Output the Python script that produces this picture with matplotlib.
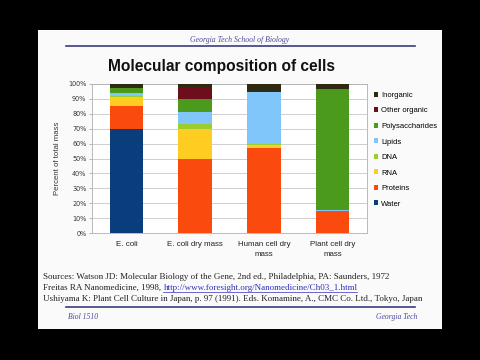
import matplotlib
matplotlib.use("Agg")
import matplotlib.pyplot as plt
from matplotlib.patches import Rectangle
from matplotlib.lines import Line2D
import numpy as np

# data (percent of total mass)
cats = ["E. coli", "E. coli dry mass", "Human cell dry\nmass", "Plant cell dry\nmass"]
comps = ["Water", "Proteins", "RNA", "DNA", "Lipids", "Polysaccharides", "Other organic", "Inorganic"]
water = [70, 0, 0, 0]
proteins = [15, 50, 57, 14.5]
rna = [6, 20, 2, 0]
dna = [1, 3, 0.5, 0]
lipids = [2, 8, 35, 1]
polysacch = [3, 9, 0, 81]
other_org = [1, 8, 0.5, 0]
inorganic = [2, 2, 5, 3.5]
colors = ["#0a3d7c", "#fb4a0e", "#ffcc22", "#9ccc2e", "#80c6fb", "#4c9a1c", "#6e0d1c", "#2e2a12"]

series = [water, proteins, rna, dna, lipids, polysacch, other_org, inorganic]

fig = plt.figure(figsize=(4.8, 3.6), dpi=100)
fig.patch.set_facecolor("black")

W, H = 480.0, 360.0
def fx(px): return px / W
def fy(py): return 1 - py / H

# white slide
fig.patches.append(Rectangle((fx(38), fy(329)), fx(442) - fx(38), (329 - 30) / H,
                             transform=fig.transFigure, facecolor="#fafafa", edgecolor="none", zorder=-10))

navy = "#3c3c80"
fig.text(fx(240), fy(40), "Georgia Tech School of Biology", ha="center", va="center",
         family="Liberation Serif", style="italic", fontsize=5.6, color="#4a4a9a")
fig.add_artist(Line2D([fx(66), fx(415)], [fy(46), fy(46)], transform=fig.transFigure, color=navy, lw=1.2))
fig.add_artist(Line2D([fx(66), fx(415)], [fy(307), fy(307)], transform=fig.transFigure, color=navy, lw=1.2))
fig.text(fx(221), fy(67), "Molecular composition of cells", ha="center", va="center",
         family="Liberation Sans", weight="bold", fontsize=11.2, color="#111111")

src_kw = dict(family="Liberation Serif", fontsize=6.45, color="#222222", va="center", ha="left")
fig.text(fx(43), fy(277), "Sources: Watson JD: Molecular Biology of the Gene, 2nd ed., Philadelphia, PA: Saunders, 1972", **src_kw)
t = fig.text(fx(43), fy(288), "Freitas RA Nanomedicine, 1998, ", **src_kw)
fig.canvas.draw()
bb = t.get_window_extent()
link = fig.text(bb.x1 / fig.bbox.width, fy(288), "http://www.foresight.org/Nanomedicine/Ch03_1.html",
                family="Liberation Serif", fontsize=6.45, color="#3030c0", va="center", ha="left")
fig.canvas.draw()
lb = link.get_window_extent()
fig.add_artist(Line2D([lb.x0 / fig.bbox.width, lb.x1 / fig.bbox.width], [fy(291.5), fy(291.5)],
                      transform=fig.transFigure, color="#3030c0", lw=0.5))
fig.text(fx(43), fy(299), "Ushiyama K: Plant Cell Culture in Japan, p. 97 (1991). Eds. Komamine, A., CMC Co. Ltd., Tokyo, Japan", **src_kw)
fig.text(fx(68), fy(317), "Biol 1510", family="Liberation Serif", style="italic", fontsize=5.5,
         color="#4a4a9a", va="center", ha="left")
fig.text(fx(417), fy(317), "Georgia Tech", family="Liberation Serif", style="italic", fontsize=5.5,
         color="#4a4a9a", va="center", ha="right")

# chart
ax = fig.add_axes([fx(92), fy(233), fx(367) - fx(92), (233 - 84) / H])
ax.set_zorder(2)
ax.set_facecolor("white")
x = np.arange(len(cats))
bottom = np.zeros(len(cats))
handles = []
for vals, name, c in zip(series, comps, colors):
    b = ax.bar(x, vals, 0.49, bottom=bottom, color=c, label=name, zorder=3)
    handles.append(b)
    bottom += np.array(vals)

ax.set_xlim(-0.5, 3.5)
ax.set_ylim(0, 100)
ax.set_yticks(np.arange(0, 101, 10))
ax.set_yticklabels([f"{v}%" for v in range(0, 101, 10)], fontsize=4.7, color="#333333")
ax.set_xticks(x)
ax.set_xticklabels(cats, fontsize=5.7, color="#222222", family="Liberation Sans", linespacing=1.45)
ax.tick_params(axis="x", length=0, pad=6)
ax.tick_params(axis="y", length=2, width=0.5, color="#999999", pad=2)
ax.grid(axis="y", color="#c8c8c8", lw=0.6, zorder=0)
for s in ax.spines.values():
    s.set_color("#b0b0b0")
    s.set_linewidth(0.6)
ax.set_ylabel("Percent of total mass", fontsize=5.6, family="Liberation Sans", color="#333333", labelpad=5)

fig.legend(handles[::-1], comps[::-1], loc="upper left", bbox_to_anchor=(fx(370), fy(88)),
           frameon=False, prop={"family": "Liberation Sans", "size": 5.5},
           handlelength=0.6, handleheight=0.6, handletextpad=0.4, labelspacing=1.1, borderpad=0)

fig.savefig("out.png", dpi=100, facecolor=fig.get_facecolor())
